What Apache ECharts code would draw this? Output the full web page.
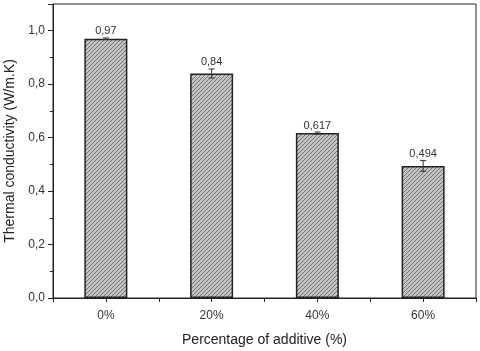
<!DOCTYPE html>
<html>
<head>
<meta charset="utf-8">
<script src="https://cdn.jsdelivr.net/npm/echarts@6/dist/echarts.min.js"></script>
<style>
  html, body { margin: 0; padding: 0; background: #fff; }
  #main { width: 480px; height: 351px; }
</style>
</head>
<body>
<div id="main"></div>
<script>
const categories = ["0%", "20%", "40%", "60%"];
const conductivity = [0.97, 0.84, 0.617, 0.494];
const errors = [0.003, 0.017, 0.004, 0.02];
const valueLabels = ["0,97", "0,84", "0,617", "0,494"];

// hatch pattern for the bars
function makeHatch() {
  const c = document.createElement("canvas");
  c.width = 4;
  c.height = 4;
  const ctx = c.getContext("2d");
  ctx.fillStyle = "#c4c4c4";
  ctx.fillRect(0, 0, 4, 4);
  ctx.strokeStyle = "#6e6e6e";
  ctx.lineWidth = 1;
  ctx.beginPath();
  ctx.moveTo(-1, 5);
  ctx.lineTo(5, -1);
  ctx.moveTo(-1, 1);
  ctx.lineTo(1, -1);
  ctx.moveTo(3, 5);
  ctx.lineTo(5, 3);
  ctx.stroke();
  return c;
}

const chartDom = document.getElementById("main");
const myChart = echarts.init(chartDom);
const fontFamily = "Liberation Sans, Arial, sans-serif";

const option = {
  animation: false,
  grid: {
    left: 53,
    right: 4,
    top: 4,
    bottom: 53,
    outerBoundsMode: "none",
    containLabel: false,
    show: true,
    borderColor: "#222",
    borderWidth: 1,
  },
  xAxis: [
    {
      type: "category",
      data: categories,
      axisLine: { lineStyle: { color: "#222", width: 1 } },
      axisTick: { show: true, alignWithLabel: true, length: 4, lineStyle: { color: "#222" } },
      axisLabel: { color: "#333", fontSize: 12, fontFamily: fontFamily, margin: 12 },
      name: "Percentage of additive (%)",
      nameLocation: "middle",
      nameGap: 35,
      nameTextStyle: { color: "#222", fontSize: 14, fontFamily: fontFamily },
    },
    {
      type: "category",
      data: categories,
      position: "bottom",
      axisLine: { show: false },
      axisTick: { show: true, length: 4, lineStyle: { color: "#222" } },
      axisLabel: { show: false },
    },
  ],
  yAxis: {
    type: "value",
    min: 0,
    max: 1.1,
    interval: 0.2,
    axisLine: { show: true, lineStyle: { color: "#222", width: 1 } },
    axisTick: { show: true, length: 5, lineStyle: { color: "#222" } },
    minorTick: { show: true, splitNumber: 2, length: 3, lineStyle: { color: "#222" } },
    splitLine: { show: false },
    axisLabel: {
      color: "#333",
      fontSize: 12,
      fontFamily: fontFamily,
      margin: 8,
      showMaxLabel: false,
      formatter: (v) => (v > 1.05 ? "" : v.toFixed(1).replace(".", ",")),
    },
    name: "Thermal conductivity (W/m.K)",
    nameLocation: "middle",
    nameGap: 34,
    nameTextStyle: { color: "#222", fontSize: 14, fontFamily: fontFamily },
  },
  series: [
    {
      type: "bar",
      data: conductivity,
      barWidth: 43,
      itemStyle: {
        color: { image: makeHatch(), repeat: "repeat" },
        borderColor: "#222",
        borderWidth: 1.5,
      },
    },
    {
      type: "custom",
      data: conductivity.map((v, i) => [i, v, errors[i]]),
      z: 5,
      renderItem: (params, api) => {
        const i = api.value(0);
        const v = api.value(1);
        const e = api.value(2);
        const hi = api.coord([i, v + e]);
        const lo = api.coord([i, v - e]);
        const cap = 3;
        return {
          type: "group",
          children: [
            {
              type: "line",
              shape: { x1: hi[0], y1: hi[1], x2: lo[0], y2: lo[1] },
              style: { stroke: "#333", lineWidth: 1 },
            },
            {
              type: "line",
              shape: { x1: hi[0] - cap, y1: hi[1], x2: hi[0] + cap, y2: hi[1] },
              style: { stroke: "#333", lineWidth: 1 },
            },
            {
              type: "line",
              shape: { x1: lo[0] - cap, y1: lo[1], x2: lo[0] + cap, y2: lo[1] },
              style: { stroke: "#333", lineWidth: 1 },
            },
            {
              type: "text",
              style: {
                x: hi[0],
                y: hi[1] - 1,
                text: valueLabels[params.dataIndex],
                align: "center",
                verticalAlign: "bottom",
                fill: "#333",
                fontSize: 11,
                fontFamily: fontFamily,
              },
            },
          ],
        };
      },
    },
  ],
};
myChart.setOption(option);
</script>
</body>
</html>
